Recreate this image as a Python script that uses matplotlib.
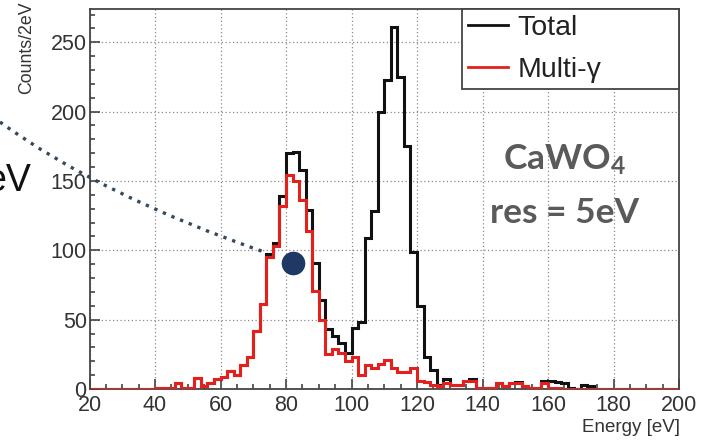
import numpy as np
import matplotlib
matplotlib.use("Agg")
import matplotlib.pyplot as plt
from matplotlib.lines import Line2D
from matplotlib.path import Path
from matplotlib.patches import PathPatch
import matplotlib.transforms as mtransforms
from matplotlib.ticker import MultipleLocator

# ---- data: counts per 2 eV bin, 20-200 eV ----
bin_width = 2
e_min, e_max = 20, 200

multi_gamma = [
    0, 0, 0, 0, 0, 0, 0, 0, 0, 0,            # 20-38
    1, 1, 1, 4, 1, 1, 8, 2, 4, 7,            # 40-58
    9, 13, 10, 17, 23, 42, 61, 95, 103, 132,  # 60-78
    154, 150, 136, 114, 71, 50, 25, 29, 26, 20,  # 80-98
    23, 10, 17, 15, 18, 21, 15, 12, 12, 15,  # 100-118
    6, 5, 3, 2, 4, 3, 3, 6, 6, 1,            # 120-138
    1, 1, 4, 2, 4, 4, 2, 1, 1, 4,            # 140-158
    1, 1, 0, 0, 0, 0, 0, 0, 0, 0,            # 160-178
    0, 0, 0, 0, 0, 0, 0, 0, 0, 0,            # 180-198
]

total = [
    0, 0, 0, 0, 0, 0, 0, 0, 0, 0,
    1, 1, 1, 4, 1, 1, 8, 2, 4, 7,
    9, 13, 10, 17, 23, 42, 61, 97, 105, 139,
    170, 171, 158, 129, 91, 64, 43, 38, 33, 26,
    44, 48, 109, 128, 200, 223, 261, 225, 175, 99,
    60, 23, 14, 3, 7, 3, 3, 6, 7, 1,
    1, 1, 4, 2, 4, 5, 2, 1, 1, 6,
    6, 5, 4, 1, 0, 3, 2, 0, 0, 0,
    0, 0, 0, 0, 0, 0, 0, 0, 0, 0,
]

series_labels = ["Total", "Multi-\u03b3"]
marker_point = (82.2, 91)        # highlighted point (energy, counts)
x_ticks = [20, 40, 60, 80, 100, 120, 140, 160, 180, 200]
y_ticks = [0, 50, 100, 150, 200, 250]

edges = np.arange(e_min, e_max + bin_width, bin_width)

# ---- figure ----
W, H = 702, 442
fig = plt.figure(figsize=(W / 100, H / 100), dpi=100)
ax_l, ax_r, ax_t, ax_b = 89.5, 679, 9, 389
ax = fig.add_axes([ax_l / W, 1 - ax_b / H, (ax_r - ax_l) / W, (ax_b - ax_t) / H])

frame_col = "#444444"
text_col = "#333333"

ax.stairs(total, edges, color="#111111", lw=2.2, zorder=3)
ax.stairs(multi_gamma, edges, color="#e3201c", lw=2.2, zorder=4)

ax.set_xlim(e_min, e_max)
ax.set_ylim(0, 274)
ax.set_xticks(x_ticks)
ax.set_yticks(y_ticks)
ax.xaxis.set_minor_locator(MultipleLocator(5))
ax.yaxis.set_minor_locator(MultipleLocator(10))

ax.grid(True, which="major", color="#8a8a8a", lw=0.9, linestyle=(0, (1, 2)))
ax.set_axisbelow(True)

ax.tick_params(which="both", direction="in", top=False, right=False,
               color=frame_col, width=1.2)
ax.tick_params(which="major", length=7.5, labelsize=15.5, labelcolor=text_col)
ax.tick_params(which="minor", length=3.8)
ax.tick_params(axis="x", pad=4)
ax.tick_params(axis="y", pad=2)
for lab in ax.get_xticklabels() + ax.get_yticklabels():
    lab.set_family("Liberation Sans")

for sp in ax.spines.values():
    sp.set_color(frame_col)
    sp.set_linewidth(1.3)

# axis titles
fig.text(27 / W, 1 - 1 / H, "Counts/2eV", rotation=90, ha="center", va="top",
         fontsize=12.8, color=text_col, family="Liberation Sans")
fig.text(680 / W, 1 - 428 / H, "Energy [eV]", ha="right", va="center",
         fontsize=13.5, color=text_col, family="Liberation Sans")

# legend
handles = [Line2D([], [], color="#111111", lw=2),
           Line2D([], [], color="#e3201c", lw=2)]
leg_x0 = (462 - ax_l) / (ax_r - ax_l)
leg = ax.legend(handles, series_labels, loc="upper left",
                bbox_to_anchor=(leg_x0, 1.0, 1 - leg_x0, 0.0), mode="expand",
                borderaxespad=0, handlelength=1.4,
                handletextpad=0.32, labelspacing=0.55, borderpad=0.22,
                fancybox=False, framealpha=1, edgecolor=frame_col,
                prop={"family": "Liberation Sans", "size": 20.5})
leg.get_frame().set_linewidth(1.3)
for t in leg.get_texts():
    t.set_color("#222222")

# sample label
plt.rcParams["mathtext.fontset"] = "custom"
plt.rcParams["mathtext.rm"] = "Lato:bold"
plt.rcParams["mathtext.bf"] = "Lato:bold"
plt.rcParams["mathtext.it"] = "Lato:bold"
fig.text(565 / W, 1 - 160 / H, r"CaWO$_4$", ha="center", va="center",
         fontsize=25.5, color="#5a5a5a", family="Lato", weight="bold")
fig.text(565 / W, 1 - 213 / H, "res = 5eV", ha="center", va="center",
         fontsize=25.5, color="#5a5a5a", family="Lato", weight="bold")

# highlighted point with dotted leader from the left
ax.plot([marker_point[0]], [marker_point[1]], "o", ms=16, color="#1f3864",
        zorder=6, clip_on=False)

px = mtransforms.Affine2D().scale(1 / W, -1 / H).translate(0, 1) + fig.transFigure
leader = Path([(0, 122), (100, 195), (267, 253)],
              [Path.MOVETO, Path.CURVE3, Path.CURVE3])
fig.patches.append(PathPatch(leader, transform=px, fill=False,
                             edgecolor="#34495f", lw=2.4,
                             linestyle=(0, (1, 1.8)), zorder=5))

fig.text(31 / W, 1 - 181 / H, "eV", ha="right", va="center",
         fontsize=27, color="#111111", family="Liberation Sans")

fig.savefig("out.png", dpi=100)
